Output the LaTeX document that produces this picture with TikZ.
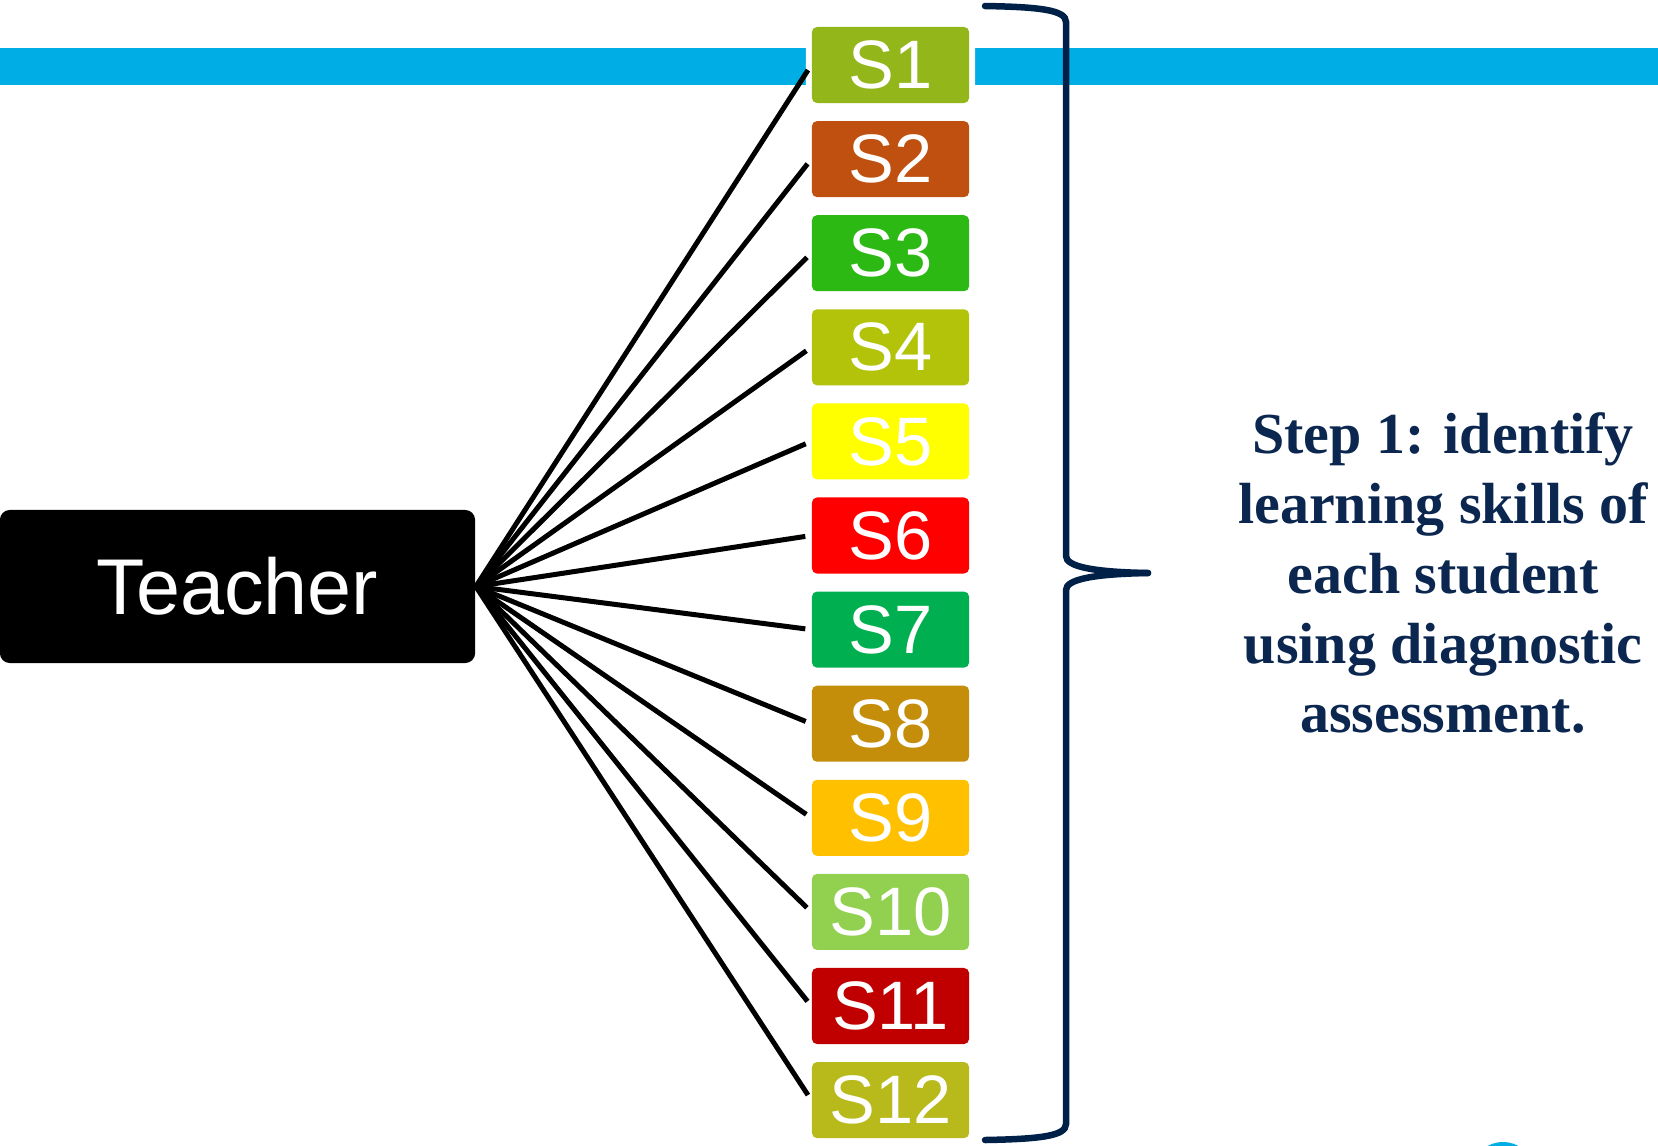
\documentclass[tikz,border=0pt]{standalone}
\usepackage{fontspec}
\setmainfont{Liberation Serif}
\newfontfamily\labelfont{Liberation Sans}
\usepackage{xcolor}
\usepackage{tikz}
\usetikzlibrary{calc}
\definecolor{barBlue}{HTML}{00ADE5}
\definecolor{braceNavy}{HTML}{002147}
\definecolor{stepNavy}{HTML}{0B2750}
\definecolor{sOlive}{HTML}{93B71B}
\definecolor{sRust}{HTML}{C0500F}
\definecolor{sGrass}{HTML}{2CB914}
\definecolor{sLime}{HTML}{B2C30A}
\definecolor{sYellow}{HTML}{FFFF00}
\definecolor{sRed}{HTML}{FF0000}
\definecolor{sGreen}{HTML}{00B050}
\definecolor{sOchre}{HTML}{C48E0B}
\definecolor{sGold}{HTML}{FFC000}
\definecolor{sLight}{HTML}{92D050}
\definecolor{sCrimson}{HTML}{C00000}
\definecolor{sMoss}{HTML}{B8B91A}

\begin{document}
\begin{tikzpicture}[x=0.01cm, y=-0.01cm,
    teacherbox/.style={fill=black, rounded corners=0.1cm, minimum width=4.75cm,
        minimum height=1.53cm, inner sep=0pt, text=white,
        font=\labelfont\fontsize{22.5}{27}\selectfont},
    student/.style={rounded corners=0.05cm, minimum width=1.57cm, minimum height=0.76cm,
        inner sep=0pt, text=white, font=\labelfont\fontsize{19.5}{23}\selectfont,
        preaction={draw=white, line width=0.12cm}},
    link/.style={black, line width=0.05cm, shorten >=0.06cm},
    steptext/.style={align=center, text=stepNavy,
        font=\bfseries\fontsize{16.5}{19.9}\selectfont}]
    \useasboundingbox (0,0) rectangle (1658,1145);
    \clip (0,0) rectangle (1658,1145);
    % blue band along the top
    \fill[barBlue] (0,48) rectangle (1658,85);
    \node[teacherbox] (teacher) at (237.5,586.5) {Teacher};
    \foreach \col [count=\i] in {sOlive, sRust, sGrass, sLime, sYellow, sRed,
            sGreen, sOchre, sGold, sLight, sCrimson, sMoss} {
        \node[student, fill=\col] (s\i) at (890.5,{65+94.1*(\i-1)}) {S\i};
        \draw[link] (teacher.east) -- (s\i.west);
    }
    % brace round the students
    \coordinate (tip) at (1148,573);
    \draw[braceNavy, line width=0.065cm, line cap=round]
        (985,6) .. controls (1040,7) and (1066,10) .. (1066,22) -- (1066,556)
        .. controls (1066,567) and (1095,572) .. (tip);
    \draw[braceNavy, line width=0.065cm, line cap=round]
        (tip) .. controls (1095,574) and (1066,579) .. (1066,590) -- (1066,1124)
        .. controls (1066,1136) and (1040,1139) .. (985,1140);
    \node[steptext] (step) at (1443,573)
        {Step 1: identify\\learning skills of\\each student\\using diagnostic\\assessment.};
    % bit of a logo at the lower edge
    \fill[barBlue] (1503,1166) ellipse (28 and 24);
\end{tikzpicture}
\end{document}
